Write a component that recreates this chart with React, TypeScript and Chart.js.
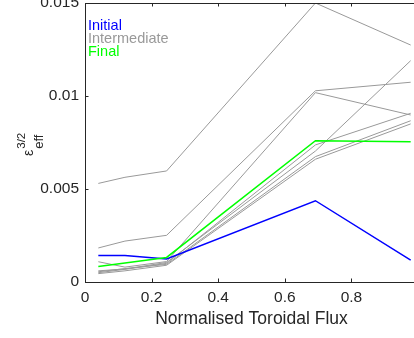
import React, { useEffect, useRef } from 'react';
import { Chart, registerables } from 'chart.js';

Chart.register(...registerables);

// ---- data ----
const fluxPoints = [0.04, 0.12, 0.245, 0.692, 0.978];
const initialSeries = [0.00142, 0.00142, 0.00124, 0.00437, 0.00118];
const finalSeries = [0.00083, 0.00102, 0.00132, 0.0076, 0.00754];
const intermediateA = [0.0053, 0.00563, 0.00597, 0.015, 0.01274];
const intermediateB = [0.00183, 0.0022, 0.00251, 0.01028, 0.01074];
const intermediateC = [0.00109, 0.0008, 0.0011, 0.01018, 0.00898];
const intermediateD = [0.0006, 0.0007, 0.00105, 0.00704, 0.0119];
const intermediateE = [0.0005, 0.00068, 0.001, 0.00737, 0.00907];
const intermediateF = [0.00055, 0.00072, 0.00095, 0.00674, 0.00867];
const intermediateG = [0.00045, 0.0006, 0.0009, 0.0066, 0.0085];
const intermediateSeries = [
  intermediateA, intermediateB, intermediateC, intermediateD,
  intermediateE, intermediateF, intermediateG,
];
const xTickValues = [0, 0.2, 0.4, 0.6, 0.8, 1];
const xTickLabels = ['0', '0.2', '0.4', '0.6', '0.8', '1'];
const yTickValues = [0, 0.005, 0.01, 0.015];
const yTickLabels = ['0', '0.005', '0.01', '0.015'];
const legendLabels = ['Initial', 'Intermediate', 'Final'];
const xAxisTitle = 'Normalised Toroidal Flux';

// ---- style ----
const FONT = '"Liberation Sans", Arial, Helvetica, sans-serif';
const AXIS = '#262626';
const BLUE = '#0000ff';
const GREEN = '#00ff00';
const GRAY = '#999999';

const toPoints = (vals: number[]) => fluxPoints.map((x, i) => ({ x, y: vals[i] }));

const framePlugin = {
  id: 'frame',
  afterDraw(chart: any) {
    const { ctx, chartArea } = chart;
    const { left, right, top, bottom } = chartArea;
    const xs = chart.scales.x;
    const ys = chart.scales.y;
    ctx.save();
    ctx.strokeStyle = AXIS;
    ctx.lineWidth = 1;
    ctx.beginPath();
    ctx.moveTo(left, Math.round(top) + 0.5);
    ctx.lineTo(right, Math.round(top) + 0.5);
    ctx.moveTo(Math.round(right) - 0.5, top);
    ctx.lineTo(Math.round(right) - 0.5, bottom);
    const tl = 3.5;
    xTickValues.forEach((v) => {
      const px = Math.round(xs.getPixelForValue(v)) + 0.5;
      ctx.moveTo(px, bottom);
      ctx.lineTo(px, bottom - tl);
      ctx.moveTo(px, top);
      ctx.lineTo(px, top + tl);
    });
    yTickValues.forEach((v) => {
      const py = Math.round(ys.getPixelForValue(v)) + 0.5;
      ctx.moveTo(left, py);
      ctx.lineTo(left + tl, py);
      ctx.moveTo(right, py);
      ctx.lineTo(right - tl, py);
    });
    ctx.stroke();

    // legend (text only)
    ctx.font = `14.5px ${FONT}`;
    ctx.textAlign = 'left';
    ctx.textBaseline = 'alphabetic';
    const colors = [BLUE, GRAY, GREEN];
    const baselines = [29.5, 42.5, 55.8];
    legendLabels.forEach((t, i) => {
      ctx.fillStyle = colors[i];
      ctx.fillText(t, left + 3, baselines[i]);
    });

    // y axis label: epsilon_eff^{3/2}
    ctx.fillStyle = AXIS;
    ctx.translate(33, 156);
    ctx.rotate(-Math.PI / 2);
    ctx.font = `14px ${FONT}`;
    ctx.fillText('ε', 0, 0);
    const ew = ctx.measureText('ε').width;
    ctx.font = `11.5px ${FONT}`;
    ctx.fillText('3/2', ew + 1, -8);
    ctx.font = `13px ${FONT}`;
    ctx.fillText('eff', ew + 1, 10);
    ctx.restore();
  },
};

export default function App() {
  const ref = useRef<HTMLCanvasElement | null>(null);
  useEffect(() => {
    if (!ref.current) return;
    const datasets: any[] = [
      {
        label: 'Final',
        data: toPoints(finalSeries),
        borderColor: GREEN,
        borderWidth: 1.5,
        order: 0,
      },
      {
        label: 'Initial',
        data: toPoints(initialSeries),
        borderColor: BLUE,
        borderWidth: 1.5,
        order: 1,
      },
      ...intermediateSeries.map((s, i) => ({
        label: `Intermediate ${i + 1}`,
        data: toPoints(s),
        borderColor: GRAY,
        borderWidth: 1,
        order: 2,
      })),
    ];
    const chart = new Chart(ref.current, {
      type: 'line',
      data: { datasets },
      options: {
        responsive: false,
        animation: false,
        devicePixelRatio: 1,
        layout: { padding: { left: 0, top: 3, right: 2, bottom: 0 } },
        elements: { point: { radius: 0 }, line: { tension: 0, fill: false } },
        plugins: { legend: { display: false }, tooltip: { enabled: false } },
        scales: {
          x: {
            type: 'linear',
            min: 0,
            max: 1,
            afterBuildTicks: (s: any) => {
              s.ticks = xTickValues.map((value) => ({ value }));
            },
            afterFit: (s: any) => {
              s.height = 56;
              s.paddingLeft = 0;
              s.paddingRight = 0;
            },
            ticks: {
              callback: (_v: any, i: number) => xTickLabels[i],
              color: AXIS,
              font: { family: FONT, size: 15.5 },
              padding: 6,
              maxRotation: 0,
              autoSkip: false,
            },
            grid: { display: false, drawTicks: false },
            border: { display: true, color: AXIS, width: 1 },
            title: {
              display: true,
              text: xAxisTitle,
              color: AXIS,
              font: { family: FONT, size: 17.5 },
              padding: { top: 0, bottom: 8 },
            },
          },
          y: {
            type: 'linear',
            min: 0,
            max: 0.015,
            afterBuildTicks: (s: any) => {
              s.ticks = yTickValues.map((value) => ({ value }));
            },
            afterFit: (s: any) => {
              s.width = 85;
              s.paddingTop = 0;
              s.paddingBottom = 0;
            },
            ticks: {
              callback: (_v: any, i: number) => yTickLabels[i],
              color: AXIS,
              font: { family: FONT, size: 15.5 },
              padding: 6,
              autoSkip: false,
            },
            grid: { display: false, drawTicks: false },
            border: { display: true, color: AXIS, width: 1 },
          },
        },
      },
      plugins: [framePlugin],
    });
    return () => chart.destroy();
  }, []);
  return (
    <div
      style={{
        position: 'absolute',
        left: 0,
        top: 0,
        width: 414,
        height: 338,
        overflow: 'hidden',
        background: '#ffffff',
      }}
    >
      <canvas ref={ref} width={420} height={338} style={{ display: 'block', width: 420, height: 338 }} />
    </div>
  );
}
